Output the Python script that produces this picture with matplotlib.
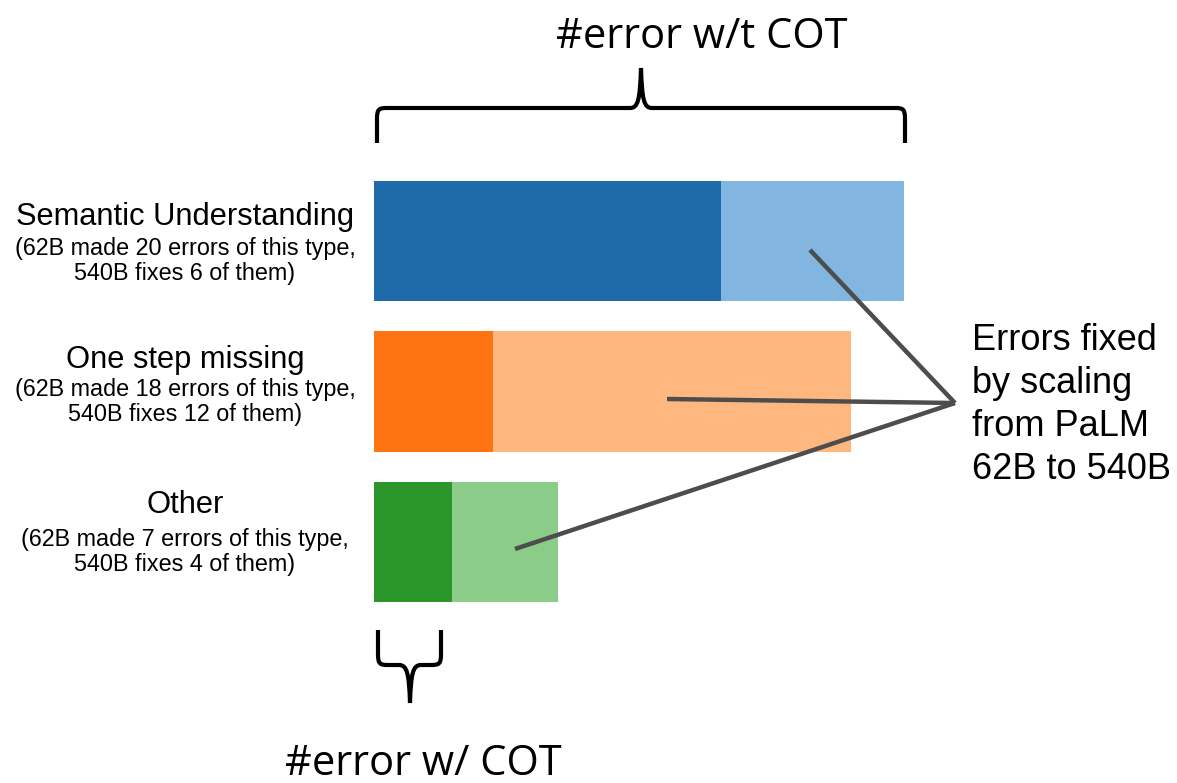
import matplotlib
matplotlib.use("Agg")
import matplotlib.pyplot as plt
from matplotlib.path import Path
from matplotlib.patches import PathPatch
from matplotlib.transforms import Affine2D

# data (bar lengths in "errors")
categories = ["Semantic Understanding", "One step missing", "Other"]
subtitles = ["(62B made 20 errors of this type,\n540B fixes 6 of them)",
             "(62B made 18 errors of this type,\n540B fixes 12 of them)",
             "(62B made 7 errors of this type,\n540B fixes 4 of them)"]
remaining = [13.1, 4.5, 2.95]   # errors still made with 540B
fixed = [6.9, 13.5, 4.0]        # errors fixed by scaling
dark_colors = ["#1f6aa9", "#ff7412", "#2a962a"]
light_colors = ["#82b6e0", "#fdb77f", "#8bcc88"]

W, H = 1177, 783
fig = plt.figure(figsize=(W / 100, H / 100), dpi=100)

# pixel coords (y down) -> display
pix = Affine2D().scale(1 / 100, -1 / 100).translate(0, H / 100) + fig.dpi_scale_trans

# axes over the whole figure, x in errors, y in category index
ax = fig.add_axes([0, 0, 1, 1])
ppu = 26.5  # pixels per error
x0 = 374
ax.set_xlim(-x0 / ppu, (W - x0) / ppu)
yc, ystep = 241, 150.5
ax.set_ylim((H - yc) / ystep, -yc / ystep)
ax.axis("off")

ypos = list(range(len(categories)))
ax.barh(ypos, remaining, height=0.8, color=dark_colors, linewidth=0)
ax.barh(ypos, fixed, left=remaining, height=0.8, color=light_colors, linewidth=0)

label_font = "Liberation Sans"
name_y = [217, 360, 505]
sub_y = [261, 402, 552]
for name, sub, ny, sy in zip(categories, subtitles, name_y, sub_y):
    fig.text(185, ny, name, transform=pix, ha="center", va="center",
             fontsize=22.2, family=label_font)
    fig.text(185, sy, sub, transform=pix, ha="center", va="center",
             fontsize=16.8, family=label_font, linespacing=1.15)

# pointer lines from the label to each "fixed" segment
apex = (955, 403)
for end in [(810, 250), (667, 399), (515, 549)]:
    fig.add_artist(plt.Line2D([apex[0], end[0]], [apex[1], end[1]], transform=pix,
                              color="#4d4d4d", linewidth=3.2, solid_capstyle="butt"))

fig.text(972, 405, "Errors fixed\nby scaling\nfrom PaLM\n62B to 540B", transform=pix,
         ha="left", va="center", fontsize=26, family=label_font, linespacing=1.3)


def brace(x_left, x_right, y_line, y_end, y_tip, x_tip):
    r = 9 if y_end > y_line else -9
    s = 1 if y_end > y_line else -1
    verts = [(x_left, y_end), (x_left, y_line + r + s * 2),
             (x_left, y_line + s * 1), (x_left + 2, y_line), (x_left + 10, y_line),
             (x_tip - 11, y_line),
             (x_tip - 3, y_line), (x_tip - 1, y_line - s * 8), (x_tip, y_tip),
             (x_tip + 1, y_line - s * 8), (x_tip + 3, y_line), (x_tip + 11, y_line),
             (x_right - 10, y_line),
             (x_right - 2, y_line), (x_right, y_line + s * 1), (x_right, y_line + r + s * 2),
             (x_right, y_end)]
    codes = [Path.MOVETO, Path.LINETO,
             Path.CURVE4, Path.CURVE4, Path.CURVE4,
             Path.LINETO,
             Path.CURVE4, Path.CURVE4, Path.CURVE4,
             Path.CURVE4, Path.CURVE4, Path.CURVE4,
             Path.LINETO,
             Path.CURVE4, Path.CURVE4, Path.CURVE4,
             Path.LINETO]
    fig.add_artist(PathPatch(Path(verts, codes), transform=pix, fill=False,
                             edgecolor="black", linewidth=3, capstyle="butt"))


brace(377, 905, 108, 143, 68, 641)
brace(378, 441, 665, 630, 703, 410)

fig.text(702, 37, "#error w/t COT", transform=pix, ha="center", va="center",
         fontsize=30, family="Open Sans")
fig.text(423, 764, "#error w/ COT", transform=pix, ha="center", va="center",
         fontsize=30, family="Open Sans")

fig.savefig("out.png", dpi=100)
